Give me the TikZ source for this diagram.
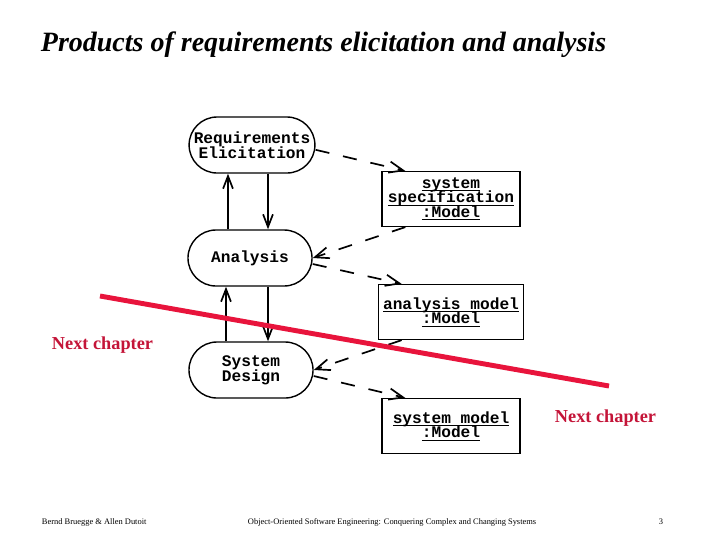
\documentclass[tikz,border=0pt]{standalone}
\usepackage{fontspec}
\setmainfont{Liberation Serif}
\setmonofont{Liberation Mono}
\usetikzlibrary{arrows.meta,positioning}
\definecolor{cut}{HTML}{E8143C}
\definecolor{cuttext}{HTML}{C41438}
\newcommand{\tightlines}{\lineskiplimit=-10pt\relax}
\newcommand{\ulname}[1]{\underline{\raisebox{0pt}[\height][0pt]{#1}}}

\begin{document}
\begin{tikzpicture}[x=0.025cm,y=-0.025cm,
  activity/.style={draw,line width=1pt,rounded corners=0.7cm,minimum width=3.1cm,minimum height=1.4cm,align=center,font=\ttfamily\bfseries\fontsize{11.5}{10.5}\selectfont\tightlines},
  product/.style={draw,line width=1pt,minimum width=3.45cm,minimum height=1.37cm,align=center,font=\ttfamily\bfseries\fontsize{11.5}{10.5}\selectfont\tightlines},
  flow/.style={-{Straight Barb[length=9pt,width=7pt]},line width=1.2pt},
  dep/.style={-{Straight Barb[length=10pt,width=8pt]},line width=1.2pt,dash pattern=on 10pt off 10pt},
  nextch/.style={text=cuttext,font=\bfseries\fontsize{13}{16}\selectfont}]
\useasboundingbox (0,0) rectangle (720,540);
\node[anchor=west,font=\bfseries\itshape\fontsize{19.9}{22}\selectfont] (title) at (36,45) {Products of requirements elicitation and analysis};

\node[activity] (req) at (252,145) {Requirements\\Elicitation};
\node[activity] (ana) at (250,258) {Analysis};
\node[activity] (sd) at (251,370) {System\\Design};

\node[product] (spec) at (451,199) {\ulname{system}\\\ulname{specification}\\\ulname{:Model}};
\node[product] (anm) at (451,312) {\ulname{analysis model}\\\ulname{:Model}};
\node[product] (sm) at (451,426) {\ulname{system model}\\\ulname{:Model}};

% activity flow
\draw[flow] ([xshift=-0.6cm]req.south |- ana.north) -- ([xshift=-0.6cm]req.south);
\draw[flow] ([xshift=0.4cm]req.south) -- ([xshift=0.4cm]req.south |- ana.north);
\draw[flow] ([xshift=-0.6cm]ana.south |- sd.north) -- ([xshift=-0.6cm]ana.south);
\draw[flow] ([xshift=0.45cm]ana.south) -- ([xshift=0.45cm]ana.south |- sd.north);

% products
\draw[dep] ([yshift=-0.12cm]req.east) -- ([xshift=0.6cm]spec.north west);
\draw[dep] ([xshift=0.6cm]spec.south west) -- (ana.east);
\draw[dep] ([yshift=-0.15cm]ana.east) -- ([xshift=0.6cm]anm.north west);
\draw[dep] ([xshift=0.6cm]anm.south west) -- (sd.east);
\draw[dep] ([yshift=-0.15cm]sd.east) -- ([xshift=0.6cm]sm.north west);

% chapter cut
\coordinate (cutA) at (100,296);
\coordinate (cutB) at (609,386);
\draw[cut,line width=3.5pt] (cutA) -- (cutB);
\node[nextch,anchor=west] (nextL) at (47,345) {Next chapter};
\node[nextch,anchor=west] (nextR) at (550,418) {Next chapter};

\node[anchor=west,font=\fontsize{6}{7}\selectfont] (authors) at (37,522) {Bernd Bruegge \& Allen Dutoit};
\node[anchor=west,font=\fontsize{6}{7}\selectfont] (book) at (243,522) {Object-Oriented Software Engineering: Conquering Complex and Changing Systems};
\node[font=\fontsize{6}{7}\selectfont] (page) at (661,522) {3};
\end{tikzpicture}
\end{document}
